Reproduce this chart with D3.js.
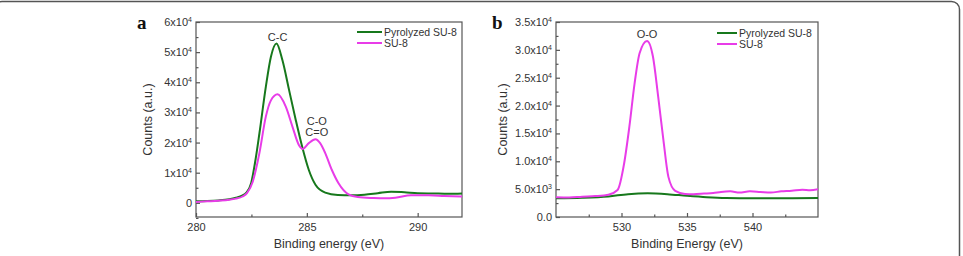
<!DOCTYPE html>
<html>
<head>
<meta charset="utf-8">
<script src="https://cdn.jsdelivr.net/npm/d3@7"></script>
<style>
  body { margin: 0; background: #fff; }
  svg { display: block; font-family: "Liberation Sans", Arial, sans-serif; }
  .axis path, .axis line { stroke: #555; stroke-width: 1.2; }
  .axis text { fill: #333; font-size: 11px; }
</style>
</head>
<body>
<svg id="fig" width="963" height="256"></svg>
<script>
// panel a : C1s
const energyGreenA = [280, 280.5, 281, 281.5, 281.8, 282.1, 282.26, 282.49, 282.7, 282.86, 283.15, 283.38, 283.63, 283.9, 284.2, 284.5, 284.79, 285.09, 285.39, 285.83, 286.4, 287, 287.6, 288.2, 288.8, 289.4, 290, 290.7, 291.4, 292];
const countsGreenA = [500, 600, 800, 1200, 1700, 2500, 3300, 6600, 15000, 23000, 38500, 48500, 52900, 47300, 37400, 27500, 18600, 10900, 6000, 3400, 2600, 2500, 2700, 3200, 3700, 3500, 3200, 3100, 3000, 3100];
const energyPinkA = [280, 280.5, 281, 281.5, 281.8, 282.1, 282.3, 282.56, 282.86, 283.15, 283.38, 283.68, 284.05, 284.35, 284.64, 284.82, 285.09, 285.39, 285.6, 285.83, 286.13, 286.43, 286.88, 287.3, 288, 288.5, 289, 289.7, 290.5, 291.2, 292];
const countsPinkA = [300, 500, 700, 1000, 1400, 2100, 3200, 7000, 16500, 28600, 34000, 36000, 31900, 25300, 19200, 17900, 19800, 21100, 19800, 16500, 10900, 6500, 2800, 1900, 1600, 1500, 1700, 2500, 2500, 2300, 2100];

// panel b : O1s
const energyPinkB = [525, 526, 527, 528, 529, 529.7, 530.2, 530.6, 531.0, 531.38, 531.95, 532.4, 532.8, 533.2, 533.58, 534.1, 534.85, 535.5, 536.3, 537, 537.6, 538.3, 539, 539.8, 540.6, 541.4, 542.2, 543, 543.8, 544.4, 545];
const countsPinkB = [3550, 3500, 3650, 3750, 4000, 4850, 9600, 16200, 24000, 29400, 31600, 28800, 21600, 13800, 7200, 4700, 4150, 4100, 4200, 4300, 4500, 4600, 4400, 4600, 4500, 4400, 4600, 4700, 4900, 4800, 5000];
const energyGreenB = [525, 527, 529, 530.5, 532, 533.5, 535, 536.5, 538, 540, 542.5, 545];
const countsGreenB = [3350, 3450, 3700, 4100, 4250, 4100, 3800, 3550, 3400, 3350, 3350, 3400];

const xTicksA = [280, 285, 290];
const xMinorA = [282.5, 287.5];
const yTicksA = [0, 10000, 20000, 30000, 40000, 50000, 60000];
const yLabelsA = ["0", "1x10^4", "2x10^4", "3x10^4", "4x10^4", "5x10^4", "6x10^4"];
const yMinorA = [-5000, 5000, 15000, 25000, 35000, 45000, 55000];

const xTicksB = [530, 535, 540];
const xMinorB = [527.5, 532.5, 537.5, 542.5];
const yTicksB = [0, 5000, 10000, 15000, 20000, 25000, 30000, 35000];
const yLabelsB = ["0.0", "5.0x10^3", "1.0x10^4", "1.5x10^4", "2.0x10^4", "2.5x10^4", "3.0x10^4", "3.5x10^4"];
const yMinorB = [2500, 7500, 12500, 17500, 22500, 27500, 32500];

const seriesNames = ["Pyrolyzed SU-8", "SU-8"];
const seriesColors = ["#17781c", "#e83ce8"];

const svg = d3.select('#fig');

// outer frame (rounded, clipped by the window)
svg.append('rect')
    .attr('x', -6).attr('y', 1.5)
    .attr('width', 965.5).attr('height', 300)
    .attr('rx', 8)
    .attr('fill', 'none').attr('stroke', '#555').attr('stroke-width', 1.5);

function supLabel(sel, labels){
    sel.each(function(d, i){
        const t = d3.select(this).text(null);
        const parts = labels[i].split('^');
        t.append('tspan').text(parts[0]);
        if (parts[1]) t.append('tspan').attr('dy', '-4').attr('font-size', '7px').text(parts[1]);
    });
}

function panel(o){
    const x = d3.scaleLinear().domain(o.xDomain).range([o.left, o.right]);
    const y = d3.scaleLinear().domain(o.yDomain).range([o.bottom, o.top]);
    const g = svg.append('g');

    // box
    g.append('rect')
        .attr('x', o.left).attr('y', o.top)
        .attr('width', o.right - o.left).attr('height', o.bottom - o.top)
        .attr('fill', 'none').attr('stroke', '#555').attr('stroke-width', 1.2);

    // x axis
    const gx = g.append('g').attr('class', 'axis')
        .attr('transform', `translate(0,${o.bottom})`)
        .call(d3.axisBottom(x).tickValues(o.xTicks).tickSizeInner(-4).tickSizeOuter(0).tickPadding(6).tickFormat(d3.format('d')));
    gx.select('.domain').remove();
    g.append('g').attr('class', 'axis')
        .attr('transform', `translate(0,${o.bottom})`)
        .call(d3.axisBottom(x).tickValues(o.xMinor).tickSizeInner(-2.5).tickSizeOuter(0).tickFormat(''))
        .select('.domain').remove();

    // y axis
    const gy = g.append('g').attr('class', 'axis')
        .attr('transform', `translate(${o.left},0)`)
        .call(d3.axisLeft(y).tickValues(o.yTicks).tickSizeInner(-4).tickSizeOuter(0).tickPadding(4));
    gy.select('.domain').remove();
    gy.selectAll('.tick text').call(supLabel, o.yLabels);
    g.append('g').attr('class', 'axis')
        .attr('transform', `translate(${o.left},0)`)
        .call(d3.axisLeft(y).tickValues(o.yMinor).tickSizeInner(-2.5).tickSizeOuter(0).tickFormat(''))
        .select('.domain').remove();

    // titles
    g.append('text')
        .attr('x', (o.left + o.right) / 2).attr('y', 248)
        .attr('text-anchor', 'middle').attr('font-size', '12.5px').attr('fill', '#333')
        .text(o.xTitle);
    g.append('text')
        .attr('transform', `translate(${o.yTitleX},${(o.top + o.bottom) / 2}) rotate(-90)`)
        .attr('text-anchor', 'middle').attr('font-size', '12.5px').attr('fill', '#333')
        .text('Counts (a.u.)');
    g.append('text')
        .attr('x', o.letterX).attr('y', 29)
        .attr('font-family', '"Liberation Serif", "DejaVu Serif", serif')
        .attr('font-weight', 'bold').attr('font-size', '19px').attr('fill', '#111')
        .text(o.letter);

    // curves
    const clipId = 'clip-' + o.letter;
    svg.append('clipPath').attr('id', clipId).append('rect')
        .attr('x', o.left).attr('y', o.top).attr('width', o.right - o.left).attr('height', o.bottom - o.top);
    const line = d3.line().x(d => x(d[0])).y(d => y(d[1])).curve(d3.curveMonotoneX);
    o.series.forEach(s => {
        g.append('path')
            .datum(d3.zip(s.x, s.y))
            .attr('clip-path', `url(#${clipId})`)
            .attr('fill', 'none')
            .attr('stroke', seriesColors[s.c])
            .attr('stroke-width', 2)
            .attr('stroke-linejoin', 'round')
            .attr('d', line);
    });

    // legend
    seriesNames.forEach((name, i) => {
        const ly = o.legendY + i * 11;
        g.append('line')
            .attr('x1', o.legendX).attr('x2', o.legendX + o.legendW)
            .attr('y1', ly).attr('y2', ly)
            .attr('stroke', seriesColors[i]).attr('stroke-width', 2);
        g.append('text')
            .attr('x', o.legendX + o.legendW + 2).attr('y', ly + 3.5)
            .attr('font-size', '10.5px').attr('fill', '#333')
            .text(name);
    });

    // peak labels
    o.notes.forEach(n => {
        g.append('text')
            .attr('x', x(n.e)).attr('y', n.y)
            .attr('text-anchor', 'middle').attr('font-size', '11px').attr('fill', '#333')
            .text(n.t);
    });
}

panel({
    letter: 'a', letterX: 137,
    left: 196, right: 462, top: 22, bottom: 217,
    xDomain: [280, 292], yDomain: [-4700, 60000],
    xTicks: xTicksA, xMinor: xMinorA, yTicks: yTicksA, yLabels: yLabelsA, yMinor: yMinorA,
    xTitle: 'Binding energy (eV)', yTitleX: 152,
    legendX: 357, legendW: 25, legendY: 32,
    series: [{x: energyGreenA, y: countsGreenA, c: 0}, {x: energyPinkA, y: countsPinkA, c: 1}],
    notes: [{e: 283.68, y: 41, t: 'C-C'}, {e: 285.45, y: 125, t: 'C-O'}, {e: 285.45, y: 136, t: 'C=O'}]
});

panel({
    letter: 'b', letterX: 492,
    left: 556, right: 818, top: 22, bottom: 217,
    xDomain: [525, 545], yDomain: [0, 35000],
    xTicks: xTicksB, xMinor: xMinorB, yTicks: yTicksB, yLabels: yLabelsB, yMinor: yMinorB,
    xTitle: 'Binding Energy (eV)', yTitleX: 507,
    legendX: 717, legendW: 20, legendY: 33,
    series: [{x: energyGreenB, y: countsGreenB, c: 0}, {x: energyPinkB, y: countsPinkB, c: 1}],
    notes: [{e: 531.95, y: 38, t: 'O-O'}]
});
</script>
</body>
</html>
